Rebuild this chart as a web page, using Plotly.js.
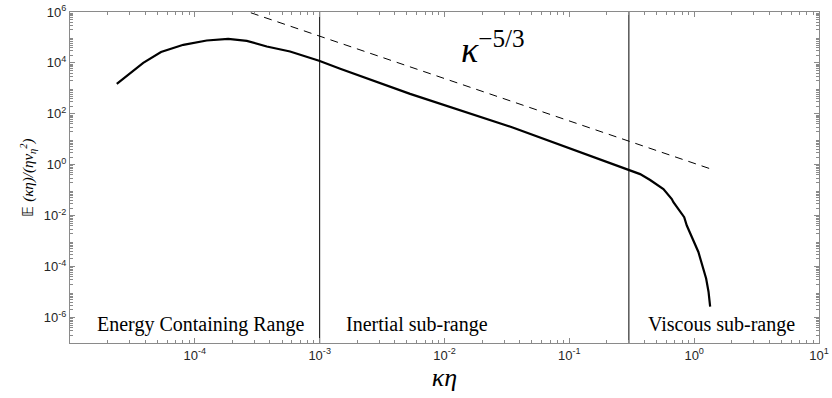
<!DOCTYPE html>
<html>
<head>
<meta charset="utf-8">
<script src="https://cdn.plot.ly/plotly-3.0.1.min.js"></script>
<style>html,body{margin:0;padding:0;background:#fff;}#chart{width:832px;height:398px;}</style>
</head>
<body>
<div id="chart"></div>
<script>
// Energy spectrum
const kEta = [2.37e-5, 3.86e-5, 5.36e-5, 8.09e-5, 1.245e-4, 1.85e-4, 2.61e-4, 3.77e-4, 5.79e-4, 9.89e-4, 1.46e-3, 5.30e-3, 3.56e-2, 0.122, 0.301, 0.369, 0.444, 0.567, 0.662, 0.682, 0.832, 0.873, 1.081, 1.247, 1.303, 1.343];
const energy = [1.5e3, 1.0e4, 2.67e4, 5.14e4, 7.59e4, 8.81e4, 7.36e4, 4.42e4, 2.82e4, 1.22e4, 5.93e3, 610, 28.6, 3.19, 0.632, 0.430, 0.251, 0.111, 0.0453, 0.0337, 8.7e-3, 4.12e-3, 3.75e-4, 3.40e-5, 1.03e-5, 2.67e-6];
// -5/3 reference line endpoints
const refK = [2.2e-4, 1.34];
const refE = [1.4e6, 0.70];
// range dividers
const dividers = [1e-3, 0.3];
const yLimits = [1e-7, 1e6];
// tick labels
const xTickVals = [1e-4, 1e-3, 1e-2, 1e-1, 1e0, 1e1];
const xTickText = ['10<sup>-4</sup>', '10<sup>-3</sup>', '10<sup>-2</sup>', '10<sup>-1</sup>', '10<sup>0</sup>', '10<sup>1</sup>'];
const yTickVals = [1e-6, 1e-4, 1e-2, 1e0, 1e2, 1e4, 1e6];
const yTickText = ['10<sup>-6</sup>', '10<sup>-4</sup>', '10<sup>-2</sup>', '10<sup>0</sup>', '10<sup>2</sup>', '10<sup>4</sup>', '10<sup>6</sup>'];
// region labels
const regionNames = ['Energy Containing Range', 'Inertial sub-range', 'Viscous sub-range'];
const regionX = [1.1e-4, 6.0e-3, 1.65];
const regionY = 5.4e-7;

const SERIF = '"Liberation Serif", "Times New Roman", serif';
const SANS = '"Liberation Sans", Arial, sans-serif';

function minorTicks(lo, hi) {
  const v = [];
  for (let e = lo; e < hi; e++) for (let m = 2; m <= 9; m++) v.push(m * Math.pow(10, e));
  return v;
}

const traces = [
  {x: kEta, y: energy, type: 'scatter', mode: 'lines', line: {color: '#000', width: 2.2}, hoverinfo: 'skip'},
  {x: refK, y: refE, type: 'scatter', mode: 'lines', line: {color: '#000', width: 1, dash: '8px,6px'}, hoverinfo: 'skip'}
];
dividers.forEach(d => traces.push({x: [d, d], y: yLimits, type: 'scatter', mode: 'lines', line: {color: '#000', width: 1}, hoverinfo: 'skip'}));

const annotations = regionNames.map((t, i) => ({
  x: Math.log10(regionX[i]), y: Math.log10(regionY), xref: 'x', yref: 'y', text: t, showarrow: false,
  font: {family: SERIF, size: 20, color: '#000'}, xanchor: 'center', yanchor: 'middle'
}));
annotations.push({
  x: Math.log10(0.0245), y: 4.59, xref: 'x', yref: 'y', showarrow: false,
  text: '<i>κ</i><sup>−5/3</sup>', font: {family: SERIF, size: 36, color: '#000'},
  xanchor: 'center', yanchor: 'middle'
});

const axisCommon = {
  type: 'log', showgrid: false, zeroline: false, showline: true, linecolor: '#8a8a8a', linewidth: 1,
  mirror: 'allticks', ticks: 'inside', ticklen: 5, tickcolor: '#8a8a8a', tickmode: 'array',
  tickfont: {family: SANS, size: 13, color: '#262626'}
};

const layout = {
  width: 832, height: 398, margin: {l: 70, r: 13, t: 12, b: 55},
  paper_bgcolor: '#fff', plot_bgcolor: '#fff', showlegend: false,
  font: {family: SERIF},
  xaxis: Object.assign({}, axisCommon, {
    range: [-5, 1], tickvals: xTickVals, ticktext: xTickText,
    minor: {tickmode: 'array', tickvals: minorTicks(-5, 1), ticks: 'inside', ticklen: 3, tickcolor: '#8a8a8a'},
    title: {text: '<i>κη</i>', font: {family: SERIF, size: 26, color: '#000'}, standoff: 2}
  }),
  yaxis: Object.assign({}, axisCommon, {
    range: [-7, 6], tickvals: yTickVals, ticktext: yTickText,
    minor: {tickmode: 'array', tickvals: minorTicks(-7, 6), ticks: 'inside', ticklen: 3, tickcolor: '#8a8a8a'},
    title: {text: '𝔼 <i>(κη)/(ηv<sub>η</sub><sup>2</sup>)</i>', font: {family: SERIF, size: 15, color: '#000'}, standoff: 6}
  }),
  annotations: annotations
};

Plotly.newPlot('chart', traces, layout, {displayModeBar: false, staticPlot: true});
</script>
</body>
</html>
